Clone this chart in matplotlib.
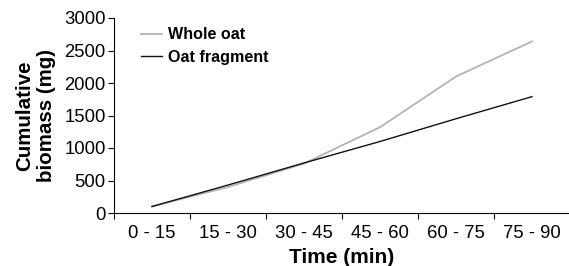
import matplotlib
matplotlib.use("Agg")
import matplotlib.pyplot as plt
import numpy as np

categories = ["0 - 15", "15 - 30", "30 - 45", "45 - 60", "60 - 75", "75 - 90"]
whole_oat = [100, 400, 760, 1320, 2100, 2640]
oat_fragment = [100, 430, 770, 1100, 1450, 1790]
yticks = [0, 500, 1000, 1500, 2000, 2500, 3000]

plt.rcParams['font.family'] = ['Liberation Sans', 'DejaVu Sans']

fig = plt.figure(figsize=(5.69, 2.66), dpi=100)
ax = fig.add_axes([114/569, 53/266, 456/569, 195/266])

x = np.arange(len(categories))
ax.plot(x, whole_oat, color='#b3b3b3', lw=1.3, label='Whole oat')
ax.plot(x, oat_fragment, color='#111111', lw=1.0, label='Oat fragment')

ax.set_xlim(-0.5, len(categories) - 0.5)
ax.set_ylim(0, 3000)
ax.set_yticks(yticks)
ax.set_yticklabels([str(v) for v in yticks], fontsize=13.3)
ax.set_xticks(x)
ax.set_xticklabels(categories, fontsize=13.3)
ax.tick_params(axis='x', which='major', length=0, pad=9)
ax.set_xticks(np.arange(len(categories) + 1) - 0.5, minor=True)
ax.tick_params(axis='x', which='minor', length=4, width=0.8, direction='out')
ax.tick_params(axis='y', length=4, width=0.8, direction='out', pad=2)

for s in ['top', 'right']:
    ax.spines[s].set_visible(False)
for s in ['left', 'bottom']:
    ax.spines[s].set_linewidth(0.8)

ax.set_xlabel('Time (min)', fontsize=15, fontweight='bold', labelpad=4)
ax.set_ylabel('Cumulative\nbiomass (mg)', fontsize=14.8, fontweight='bold', labelpad=6, linespacing=1.2)

leg = ax.legend(loc='upper left', bbox_to_anchor=(0.045, 0.985), frameon=False,
                prop={'weight': 'bold', 'size': 11.6}, handlelength=1.3,
                handletextpad=0.4, labelspacing=0.45, borderaxespad=0)

fig.savefig('out.png', dpi=100)
